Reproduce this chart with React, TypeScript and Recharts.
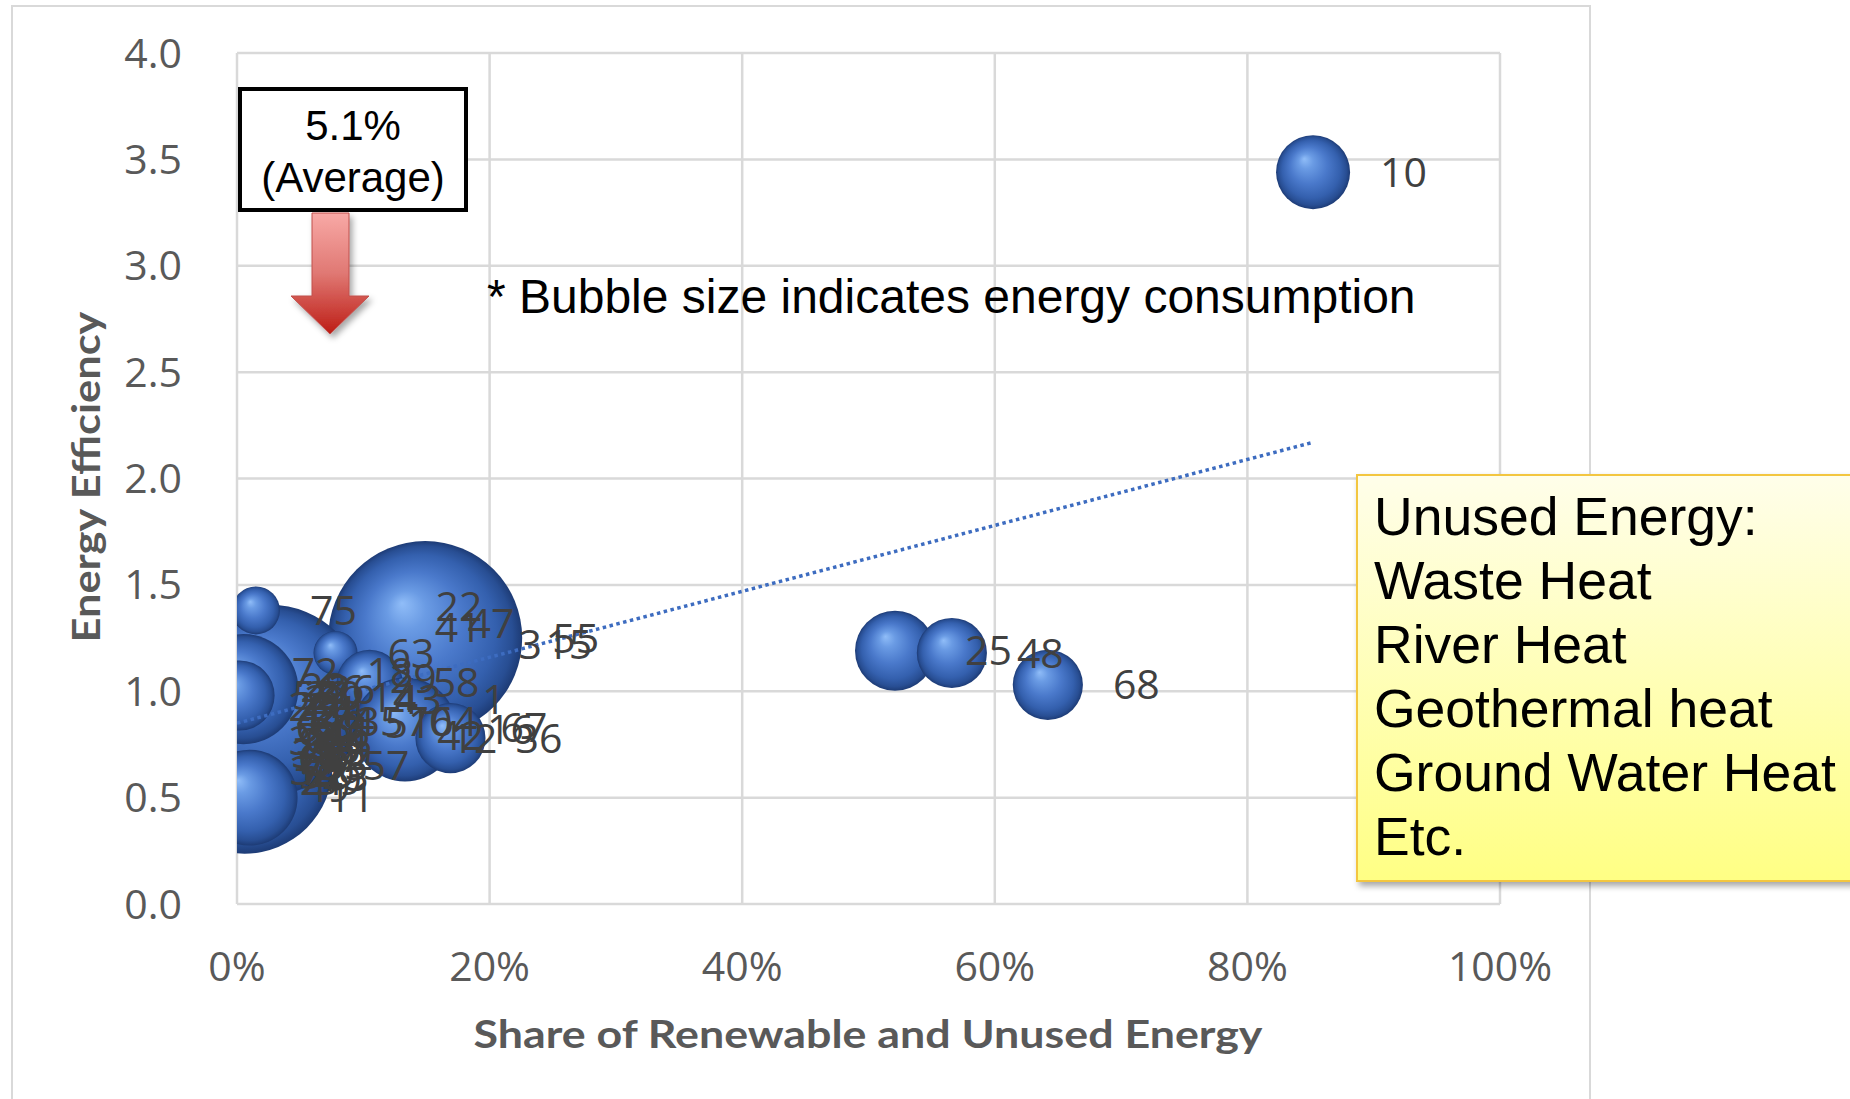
import React from 'react';
import { ScatterChart, Scatter, XAxis, YAxis, ZAxis, CartesianGrid, LabelList } from 'recharts';

// Facility numbers, listed in drawing order (hidden small bubbles first, large ones later).
const facilityIds = [
  2, 4, 5, 6, 8, 9, 13, 17, 19, 20, 21, 23, 24, 28, 30, 31, 34, 37, 38, 39,
  44, 46, 49, 50, 52, 53, 54, 56, 59, 60, 62, 65, 66, 69, 71, 73, 74,
  32, 72, 18, 29, 14, 35, 51, 70, 64, 42, 12, 67, 22, 41, 47, 3, 15, 1,
  55, 57, 43, 26, 33, 11,
  75, 63, 58, 16, 36,
  25, 48, 68, 10,
];

// Share of renewable and unused energy (0..1)
const renewableShare = [
  0.020, 0.014, 0.025, 0.010, 0.028, 0.017, 0.022, 0.031, 0.012, 0.026, 0.018, 0.009, 0.034, 0.020, 0.030, 0.013, 0.036, 0.023, 0.010, 0.032,
  0.017, 0.038, 0.021, 0.028, 0.014, 0.035, 0.025, 0.013, 0.031, 0.023, 0.040, 0.016, 0.033, 0.026, 0.019, 0.037, 0.041,
  0.010, 0.010, 0.067, 0.083, 0.067, 0.063, 0.082, 0.097, 0.115, 0.119, 0.131, 0.169, 0.116, 0.113, 0.143, 0.177, 0.203, 0.149,
  0.149, 0.006, 0.026, 0.005, 0.002, 0.010,
  0.015, 0.078, 0.105, 0.133, 0.169,
  0.521, 0.566, 0.642, 0.852,
];

// Energy efficiency
const energyEfficiency = [
  0.96, 0.90, 0.86, 0.83, 0.79, 0.76, 0.72, 0.69, 0.65, 0.62, 0.58, 0.93, 0.90, 1.02, 0.98, 0.71, 0.75, 0.67, 0.77, 0.84,
  0.87, 0.80, 0.55, 0.73, 0.61, 0.65, 0.91, 0.98, 0.58, 0.78, 0.70, 0.69, 1.01, 0.83, 0.63, 0.60, 0.86,
  0.63, 1.09, 1.09, 1.06, 0.97, 0.86, 0.85, 0.86, 0.86, 0.79, 0.78, 0.83, 1.40, 1.30, 1.32, 1.22, 1.22, 0.96,
  1.25, 0.65, 0.96, 1.01, 0.98, 0.50,
  1.38, 1.18, 1.04, 0.82, 0.78,
  1.19, 1.18, 1.03, 3.44,
];

// Energy consumption (bubble size)
const energyConsumption = [
  1.44, 1.96, 1.0, 2.56, 1.44, 1.0, 1.96, 1.0, 1.44, 0.64, 1.0, 1.0, 0.64, 0.64, 1.0, 0.64, 0.81, 1.44, 0.81, 1.44,
  0.64, 0.64, 1.0, 1.44, 1.96, 1.0, 1.0, 0.81, 0.81, 0.81, 0.81, 1.21, 0.81, 1.96, 0.81, 0.64, 0.81,
  1.0, 1.44, 2.25, 3.24, 3.24, 1.0, 1.96, 2.56, 3.24, 4.0, 3.24, 4.0, 4.84, 6.25, 4.0, 7.84, 4.84, 7.29,
  94.1, 77.4, 90.3, 30.3, 12.3, 23.0,
  5.76, 4.84, 10.9, 27.0, 12.3,
  16.0, 12.3, 12.3, 13.7,
];

// Linear trend line end points
const trendShare = [0, 0.852];
const trendEfficiency = [0.85, 2.17];

const xTicks = [0, 0.2, 0.4, 0.6, 0.8, 1];
const yTicks = [0, 0.5, 1, 1.5, 2, 2.5, 3, 3.5, 4];

const points = facilityIds.map((id, i) => ({
  id,
  x: renewableShare[i],
  y: energyEfficiency[i],
  z: energyConsumption[i],
}));

const trendPoints = trendShare.map((x, i) => ({ x, y: trendEfficiency[i] }));

const Z_MAX = 150;
const R_UNIT = 10; // radius = R_UNIT * sqrt(consumption)

function Bubble(props: any) {
  const { cx, cy, width, size } = props;
  if (cx == null || cy == null) return <g />;
  const r = width != null ? width / 2 : Math.sqrt((size || 0) / Math.PI);
  return <circle cx={cx} cy={cy} r={r} fill="url(#bubbleSphere)" />;
}

const Empty = () => <g />;

const tickStyle = { fontSize: 41, fontFamily: 'Open Sans', fill: '#595959' };
const arial = 'Liberation Sans, Arial, sans-serif';

const noteLines = [
  'Unused Energy:',
  'Waste Heat',
  'River Heat',
  'Geothermal heat',
  'Ground Water Heat',
  'Etc.',
];

export default function App() {
  return (
    <div style={{ position: 'relative', width: 1850, height: 1099, overflow: 'hidden', background: '#fff' }}>
      <style>{'body{margin:0;overflow:hidden;}'}</style>
      <svg width={0} height={0} style={{ position: 'absolute' }}>
        <defs>
          <radialGradient id="bubbleSphere" cx="50%" cy="50%" r="50%" fx="38%" fy="32%">
            <stop offset="0%" stopColor="#90bdf8" />
            <stop offset="20%" stopColor="#6a9be4" />
            <stop offset="50%" stopColor="#4a79cb" />
            <stop offset="78%" stopColor="#3460ae" />
            <stop offset="92%" stopColor="#284e93" />
            <stop offset="100%" stopColor="#1d3b75" />
          </radialGradient>
        </defs>
      </svg>

      {/* chart area frame */}
      <div
        style={{
          position: 'absolute',
          left: 11,
          top: 5,
          width: 1580,
          height: 1130,
          border: '2px solid #d9d9d9',
          boxSizing: 'border-box',
        }}
      />

      <div style={{ position: 'absolute', left: 0, top: 0 }}>
        <ScatterChart width={1850} height={1099} margin={{ top: 53, right: 350, bottom: 95, left: 137 }}>
          <CartesianGrid stroke="#d9d9d9" strokeWidth={2.5} />
          <XAxis
            type="number"
            dataKey="x"
            domain={[0, 1]}
            ticks={xTicks}
            interval={0}
            allowDataOverflow
            tickFormatter={(v: number) => `${Math.round(v * 100)}%`}
            axisLine={false}
            tickLine={false}
            tickSize={0}
            tickMargin={48}
            height={100}
            tick={tickStyle}
          />
          <YAxis
            type="number"
            dataKey="y"
            domain={[0, 4]}
            ticks={yTicks}
            interval={0}
            allowDataOverflow
            tickFormatter={(v: number) => v.toFixed(1)}
            axisLine={false}
            tickLine={false}
            tickSize={0}
            tickMargin={55}
            width={100}
            tick={tickStyle}
          />
          <ZAxis type="number" dataKey="z" domain={[0, Z_MAX]} range={[0, Math.PI * R_UNIT * R_UNIT * Z_MAX]} />
          <Scatter data={points} shape={Bubble} isAnimationActive={false} />
          <Scatter
            data={trendPoints}
            shape={Empty}
            line={{ stroke: '#3d6cc0', strokeWidth: 3.5, strokeDasharray: '3.5 3.5' }}
            isAnimationActive={false}
          />
          <Scatter data={points} shape={Empty} isAnimationActive={false}>
            <LabelList
              dataKey="id"
              position="right"
              offset={30}
              fill="#404040"
              fontSize={41}
              fontFamily="Open Sans"
            />
          </Scatter>
        </ScatterChart>
      </div>

      <svg
        width={1850}
        height={1099}
        style={{ position: 'absolute', left: 0, top: 0, pointerEvents: 'none' }}
      >
        <defs>
          <linearGradient id="arrowFill" x1="0" y1="0" x2="0" y2="1">
            <stop offset="0%" stopColor="#f8a9a6" />
            <stop offset="50%" stopColor="#e07873" />
            <stop offset="100%" stopColor="#bd1d15" />
          </linearGradient>
          <linearGradient id="noteFill" x1="0" y1="0" x2="0" y2="1">
            <stop offset="0%" stopColor="#fffeea" />
            <stop offset="100%" stopColor="#ffff84" />
          </linearGradient>
          <filter id="softShadow" x="-20%" y="-20%" width="140%" height="140%">
            <feDropShadow dx="3" dy="4" stdDeviation="3" floodColor="#000" floodOpacity="0.35" />
          </filter>
        </defs>

        {/* axis titles */}
        <text
          x={868}
          y={1048}
          textAnchor="middle"
          fontFamily="Lato"
          fontWeight={700}
          fontSize={39}
          fill="#595959"
          textLength={789}
          lengthAdjust="spacingAndGlyphs"
        >
          Share of Renewable and Unused Energy
        </text>
        <text
          x={100}
          y={477}
          transform="rotate(-90, 100, 477)"
          textAnchor="middle"
          fontFamily="Lato"
          fontWeight={700}
          fontSize={39}
          fill="#595959"
          textLength={331}
          lengthAdjust="spacingAndGlyphs"
        >
          Energy Efficiency
        </text>

        {/* bubble size note */}
        <text x={487} y={313} fontFamily={arial} fontSize={48} fill="#000">
          * Bubble size indicates energy consumption
        </text>

        {/* average marker */}
        <path
          d="M312,213 L349,213 L349,296 L369,296 L330,334 L291,296 L312,296 Z"
          fill="url(#arrowFill)"
          stroke="#c0504d"
          strokeWidth={1}
          filter="url(#softShadow)"
        />
        <rect x={240} y={89} width={226} height={121} fill="#fff" stroke="#000" strokeWidth={4} />
        <text x={353} y={140} textAnchor="middle" fontFamily={arial} fontSize={42} fill="#000">
          5.1%
        </text>
        <text x={353} y={192} textAnchor="middle" fontFamily={arial} fontSize={42} fill="#000">
          (Average)
        </text>

        {/* unused energy note */}
        <rect
          x={1357}
          y={475}
          width={540}
          height={406}
          fill="url(#noteFill)"
          stroke="#f3c63f"
          strokeWidth={2}
          filter="url(#softShadow)"
        />
        {noteLines.map((line, i) => (
          <text key={line} x={1374} y={535 + i * 64} fontFamily={arial} fontSize={53.5} fill="#000">
            {line}
          </text>
        ))}
      </svg>
    </div>
  );
}
